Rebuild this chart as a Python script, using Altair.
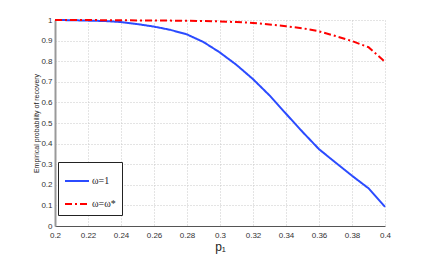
import altair as alt
import pandas as pd

p1 = [0.20, 0.21, 0.22, 0.23, 0.24, 0.25, 0.26, 0.27, 0.28, 0.29, 0.30,
      0.31, 0.32, 0.33, 0.34, 0.35, 0.36, 0.37, 0.38, 0.39, 0.40]
omega_1 = [1.0, 0.999, 0.997, 0.995, 0.99, 0.98, 0.968, 0.952, 0.93, 0.893, 0.842,
           0.782, 0.713, 0.634, 0.545, 0.457, 0.373, 0.308, 0.244, 0.183, 0.093]
omega_star = [1.0, 1.0, 1.0, 0.999, 0.999, 0.998, 0.998, 0.997, 0.996, 0.995, 0.993,
              0.99, 0.986, 0.978, 0.97, 0.96, 0.945, 0.922, 0.898, 0.868, 0.797]
series = ["ω=1", "ω=ω*"]
x_ticks = [0.2, 0.22, 0.24, 0.26, 0.28, 0.3, 0.32, 0.34, 0.36, 0.38, 0.4]
y_ticks = [0, 0.1, 0.2, 0.3, 0.4, 0.5, 0.6, 0.7, 0.8, 0.9, 1]

rows = []
for x, a, b in zip(p1, omega_1, omega_star):
    rows.append({"p1": x, "val": a, "series": series[0]})
    rows.append({"p1": x, "val": b, "series": series[1]})
df = pd.DataFrame(rows)

chart = alt.Chart(df).mark_line(strokeWidth=2).encode(
    x=alt.X("p1:Q", scale=alt.Scale(domain=[0.2, 0.4], nice=False),
            axis=alt.Axis(values=x_ticks, title="p₁", format="~g", labelFlush=False,
                          labelPadding=5,
                          titleFontSize=12, titleFontWeight="normal", titlePadding=2)),
    y=alt.Y("val:Q", scale=alt.Scale(domain=[0, 1], nice=False),
            axis=alt.Axis(values=y_ticks, title="Empirical probability of recovery", format="~g",
                          labelFlush=False, labelPadding=3,
                          titleFontSize=7, titleFontWeight="normal", titlePadding=1)),
    color=alt.Color("series:N", scale=alt.Scale(domain=series, range=["#2b4bff", "#ff0000"]),
                    legend=alt.Legend(title=None, orient="none", legendX=3, legendY=142,
                                      strokeColor="#222", fillColor="white", padding=6,
                                      symbolType="stroke", symbolSize=576, symbolStrokeWidth=2,
                                      labelFont="Liberation Serif", labelFontSize=10,
                                      labelColor="#222", labelOffset=2, rowPadding=5,
                                      cornerRadius=0)),
    strokeDash=alt.StrokeDash("series:N", scale=alt.Scale(domain=series, range=[[1, 0], [7, 3, 2, 3]]),
                              legend=alt.Legend(title=None)),
).properties(
    width=330, height=206,
    autosize=alt.AutoSizeParams(type="none"),
    padding={"left": 47, "top": 12, "right": 37, "bottom": 28},
).configure_view(stroke=None).configure_axis(
    labelFont="Liberation Sans", labelFontSize=8, labelColor="#333",
    titleFont="Liberation Sans", titleColor="#222",
    grid=True, gridColor="#c8c8c8", gridDash=[1, 2], gridWidth=1,
    ticks=False, domainColor="#555", domainWidth=1,
).configure_axisY(domainColor="#999", domainWidth=2)

chart.save("out.html", embed_options={"renderer": "svg", "actions": False})
